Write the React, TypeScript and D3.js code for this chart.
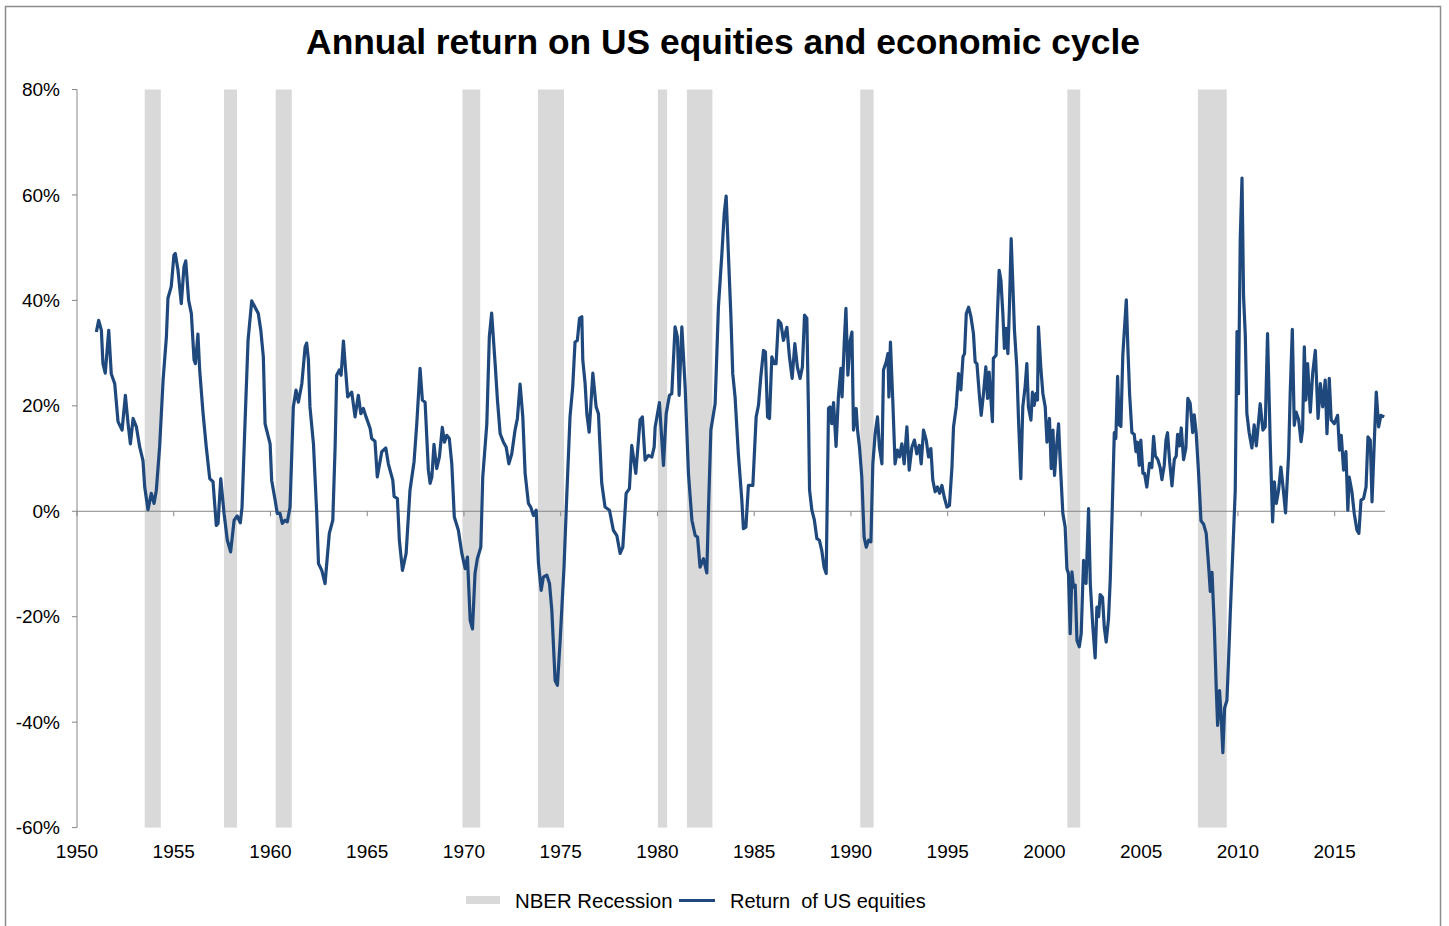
import React, { useEffect } from 'react';
import * as d3 from 'd3';

// Annual return of US equities (%), [fractional year, value]
const equityReturns: [number, number][] = [
  [1951.0, 34.0], [1951.12, 36.2], [1951.26, 34.3], [1951.34, 28.0], [1951.46, 26.2], [1951.64, 34.3], [1951.77, 26.1], [1951.95, 24.2],
  [1952.12, 17.0], [1952.33, 15.4], [1952.5, 22.0], [1952.64, 16.6], [1952.76, 12.8], [1952.9, 17.6], [1953.07, 16.0], [1953.24, 12.2],
  [1953.41, 9.6], [1953.5, 4.6], [1953.67, 0.3], [1953.84, 3.4], [1953.98, 1.5], [1954.1, 4.0], [1954.27, 12.2], [1954.45, 24.9],
  [1954.62, 33.1], [1954.7, 40.4], [1954.87, 42.6], [1955.01, 48.6], [1955.08, 48.9], [1955.22, 45.7], [1955.39, 39.4], [1955.53, 46.4],
  [1955.62, 47.5], [1955.77, 40.0], [1955.91, 37.5], [1956.05, 28.7], [1956.12, 28.0], [1956.25, 33.6], [1956.34, 26.8], [1956.51, 18.8],
  [1956.68, 12.2], [1956.86, 6.2], [1957.03, 5.6], [1957.2, -2.7], [1957.29, -2.3], [1957.43, 6.2], [1957.6, -0.4], [1957.77, -5.5],
  [1957.94, -7.7], [1958.12, -1.7], [1958.28, -0.9], [1958.44, -2.2], [1958.53, 0.8], [1958.67, 15.4], [1958.84, 32.4], [1959.03, 39.9],
  [1959.37, 37.5], [1959.5, 34.3], [1959.63, 29.3], [1959.72, 16.6], [1959.98, 12.8], [1960.06, 5.9], [1960.24, 2.1], [1960.35, -0.4],
  [1960.49, -0.4], [1960.61, -2.3], [1960.75, -1.7], [1960.87, -2.0], [1961.01, 0.8], [1961.18, 19.8], [1961.32, 23.0], [1961.44, 20.7],
  [1961.62, 24.2], [1961.79, 31.2], [1961.87, 31.9], [1961.96, 28.7], [1962.04, 19.8], [1962.22, 12.8], [1962.39, -0.4], [1962.48, -9.9],
  [1962.65, -11.2], [1962.82, -13.7], [1963.04, -4.2], [1963.22, -1.7], [1963.34, 12.2], [1963.42, 25.8], [1963.56, 26.8], [1963.65, 25.8],
  [1963.77, 32.3], [1963.87, 27.4], [1963.99, 21.7], [1964.2, 22.6], [1964.37, 17.9], [1964.54, 22.0], [1964.67, 18.5], [1964.8, 19.5],
  [1964.94, 17.9], [1965.15, 15.7], [1965.23, 13.8], [1965.4, 13.3], [1965.52, 6.5], [1965.75, 11.3], [1965.96, 12.0], [1966.09, 9.0],
  [1966.32, 5.9], [1966.39, 2.8], [1966.56, 2.4], [1966.66, -5.5], [1966.82, -11.2], [1967.01, -8.0], [1967.21, 4.0], [1967.42, 9.4],
  [1967.56, 16.6], [1967.73, 27.1], [1967.85, 21.1], [1967.99, 20.7], [1968.16, 7.8], [1968.25, 5.3], [1968.34, 6.5], [1968.45, 12.7],
  [1968.59, 8.1], [1968.73, 10.3], [1968.88, 15.9], [1968.99, 13.1], [1969.11, 14.4], [1969.24, 13.8], [1969.37, 9.0], [1969.5, -1.1],
  [1969.71, -3.6], [1969.89, -8.0], [1970.06, -10.9], [1970.18, -8.7], [1970.32, -20.7], [1970.44, -22.3], [1970.57, -11.8], [1970.69, -9.0],
  [1970.87, -6.8], [1970.97, 6.5], [1971.18, 16.6], [1971.31, 33.1], [1971.43, 37.6], [1971.61, 28.0], [1971.73, 21.1], [1971.87, 14.7],
  [1972.04, 13.1], [1972.18, 12.2], [1972.32, 9.0], [1972.47, 10.9], [1972.64, 15.4], [1972.76, 17.6], [1972.9, 24.1], [1973.04, 17.9],
  [1973.16, 7.2], [1973.33, 1.5], [1973.45, 0.8], [1973.59, -0.8], [1973.73, 0.2], [1973.85, -9.9], [1973.99, -15.0], [1974.1, -12.5],
  [1974.28, -12.1], [1974.42, -13.7], [1974.54, -18.8], [1974.71, -32.1], [1974.83, -33.0], [1974.97, -24.5], [1975.17, -10.6], [1975.31, 2.7],
  [1975.48, 17.9], [1975.62, 23.6], [1975.74, 32.1], [1975.86, 32.4], [1975.97, 36.6], [1976.09, 36.9], [1976.14, 28.7], [1976.26, 24.2],
  [1976.35, 18.5], [1976.47, 15.0], [1976.66, 26.2], [1976.83, 19.8], [1976.95, 18.5], [1977.12, 5.3], [1977.29, 0.8], [1977.52, 0.2],
  [1977.72, -3.6], [1977.9, -4.6], [1978.07, -8.0], [1978.21, -6.8], [1978.38, 3.4], [1978.55, 4.3], [1978.67, 12.5], [1978.88, 7.2],
  [1979.1, 17.3], [1979.22, 17.9], [1979.36, 9.7], [1979.53, 10.6], [1979.71, 10.3], [1979.83, 12.2], [1979.88, 16.0], [1980.1, 20.6],
  [1980.31, 8.7], [1980.45, 18.5], [1980.62, 22.0], [1980.74, 22.3], [1980.91, 35.0], [1981.03, 33.1], [1981.12, 22.0], [1981.26, 35.0],
  [1981.43, 23.6], [1981.6, 7.2], [1981.78, -1.7], [1981.95, -4.6], [1982.07, -4.9], [1982.2, -10.6], [1982.38, -9.0], [1982.55, -11.7],
  [1982.63, -0.4], [1982.76, 15.4], [1982.98, 20.4], [1983.15, 38.8], [1983.33, 48.9], [1983.45, 56.5], [1983.55, 59.8], [1983.67, 48.3],
  [1983.79, 37.5], [1983.89, 26.1], [1984.01, 21.7], [1984.18, 10.9], [1984.36, 2.1], [1984.44, -3.3], [1984.57, -3.0], [1984.7, 4.9],
  [1984.93, 4.9], [1985.1, 17.9], [1985.22, 20.1], [1985.34, 25.5], [1985.48, 30.5], [1985.58, 30.2], [1985.69, 17.9], [1985.79, 17.6],
  [1985.91, 29.3], [1986.03, 28.0], [1986.13, 28.0], [1986.25, 36.2], [1986.38, 35.6], [1986.51, 32.4], [1986.69, 34.9], [1986.82, 29.3],
  [1986.96, 25.2], [1987.1, 31.8], [1987.23, 27.4], [1987.37, 25.2], [1987.49, 27.4], [1987.6, 37.2], [1987.72, 36.6], [1987.8, 19.8],
  [1987.86, 4.0], [1987.98, 0.2], [1988.11, -1.7], [1988.24, -5.2], [1988.37, -5.5], [1988.49, -7.4], [1988.61, -10.6], [1988.72, -11.8],
  [1988.84, 19.5], [1988.92, 19.8], [1989.01, 16.6], [1989.1, 20.6], [1989.23, 12.3], [1989.35, 21.7], [1989.48, 27.1], [1989.54, 21.7],
  [1989.65, 31.8], [1989.74, 38.5], [1989.84, 25.8], [1989.96, 32.4], [1990.05, 34.0], [1990.13, 15.4], [1990.27, 19.5], [1990.34, 15.4],
  [1990.44, 12.2], [1990.56, 6.5], [1990.68, -4.9], [1990.79, -6.8], [1990.91, -5.5], [1991.03, -5.8], [1991.13, 9.0], [1991.25, 14.7],
  [1991.37, 17.9], [1991.47, 12.2], [1991.6, 9.0], [1991.68, 26.8], [1991.82, 28.3], [1991.91, 29.9], [1991.96, 21.7], [1992.04, 32.1],
  [1992.16, 21.1], [1992.28, 9.0], [1992.4, 11.6], [1992.51, 10.3], [1992.63, 12.8], [1992.75, 9.0], [1992.89, 16.0], [1993.01, 7.8],
  [1993.15, 12.2], [1993.28, 13.5], [1993.4, 10.9], [1993.53, 12.5], [1993.63, 9.0], [1993.75, 15.4], [1993.89, 13.5], [1994.01, 10.3],
  [1994.13, 11.9], [1994.23, 5.9], [1994.35, 3.7], [1994.47, 4.6], [1994.58, 3.4], [1994.7, 4.9], [1994.82, 2.7], [1994.96, 0.8],
  [1995.09, 1.1], [1995.22, 8.4], [1995.3, 16.0], [1995.44, 19.8], [1995.56, 26.1], [1995.68, 23.0], [1995.79, 29.3], [1995.87, 29.9],
  [1995.96, 37.5], [1996.08, 38.7], [1996.2, 36.9], [1996.33, 33.7], [1996.42, 28.3], [1996.51, 28.0], [1996.63, 22.3], [1996.73, 18.2],
  [1996.85, 22.3], [1996.97, 27.4], [1997.06, 21.4], [1997.14, 26.4], [1997.23, 21.4], [1997.31, 17.0], [1997.36, 29.0], [1997.5, 29.6],
  [1997.57, 37.5], [1997.66, 45.7], [1997.75, 43.8], [1997.85, 37.5], [1997.93, 30.9], [1998.02, 34.7], [1998.11, 29.9], [1998.19, 38.8],
  [1998.28, 51.7], [1998.37, 42.6], [1998.45, 34.3], [1998.57, 27.4], [1998.66, 17.3], [1998.78, 6.2], [1998.88, 19.8], [1999.0, 23.6],
  [1999.09, 28.0], [1999.17, 19.8], [1999.3, 17.3], [1999.38, 22.6], [1999.47, 20.1], [1999.56, 22.3], [1999.64, 21.1], [1999.69, 35.0],
  [1999.82, 26.8], [1999.92, 22.3], [2000.04, 19.8], [2000.13, 13.1], [2000.26, 17.6], [2000.35, 8.1], [2000.44, 15.4], [2000.52, 6.8],
  [2000.61, 11.6], [2000.73, 16.6], [2000.81, 9.7], [2000.95, -0.4], [2001.07, -3.0], [2001.16, -10.9], [2001.24, -11.8], [2001.33, -23.2],
  [2001.42, -11.5], [2001.5, -14.4], [2001.59, -14.0], [2001.68, -24.5], [2001.8, -25.7], [2001.9, -23.2], [2002.02, -9.3], [2002.15, -13.7],
  [2002.28, 0.5], [2002.37, -13.8], [2002.5, -21.9], [2002.62, -27.8], [2002.71, -18.2], [2002.8, -20.0], [2002.88, -15.8], [2003.0, -16.3],
  [2003.09, -21.9], [2003.19, -24.8], [2003.31, -20.4], [2003.4, -13.0], [2003.49, -1.3], [2003.61, 14.9], [2003.69, 13.8], [2003.78, 25.6],
  [2003.86, 16.4], [2003.95, 16.1], [2004.05, 29.7], [2004.23, 40.1], [2004.31, 31.1], [2004.4, 22.3], [2004.52, 14.9], [2004.64, 14.6],
  [2004.73, 11.3], [2004.81, 13.1], [2004.9, 8.7], [2004.98, 13.5], [2005.09, 7.2], [2005.17, 7.2], [2005.29, 4.6], [2005.43, 9.1],
  [2005.55, 8.3], [2005.64, 14.2], [2005.73, 10.5], [2005.86, 9.8], [2005.98, 8.3], [2006.07, 6.0], [2006.19, 8.7], [2006.28, 13.5],
  [2006.36, 14.9], [2006.47, 9.4], [2006.59, 4.8], [2006.71, 9.8], [2006.81, 10.5], [2006.88, 14.6], [2006.98, 12.4], [2007.07, 15.8],
  [2007.19, 9.8], [2007.31, 12.0], [2007.41, 21.4], [2007.53, 20.5], [2007.66, 14.9], [2007.74, 18.3], [2007.84, 14.9], [2007.96, 7.6],
  [2008.09, -1.8], [2008.22, -2.4], [2008.36, -4.2], [2008.48, -10.1], [2008.57, -15.2], [2008.66, -11.6], [2008.78, -21.9], [2008.88, -33.7],
  [2008.95, -40.6], [2009.05, -34.0], [2009.14, -39.5], [2009.22, -45.8], [2009.31, -37.3], [2009.43, -35.9], [2009.52, -27.8], [2009.6, -19.7],
  [2009.74, -7.1], [2009.86, 3.9], [2009.95, 34.1], [2010.03, 22.3], [2010.12, 51.8], [2010.21, 63.2], [2010.29, 40.7], [2010.38, 33.4],
  [2010.46, 18.6], [2010.58, 14.9], [2010.72, 12.0], [2010.84, 16.4], [2010.95, 12.4], [2011.07, 17.2], [2011.15, 20.4], [2011.29, 15.4],
  [2011.41, 16.0], [2011.53, 33.7], [2011.67, 12.8], [2011.79, -2.0], [2011.88, 5.6], [2011.98, 1.5], [2012.1, 4.0], [2012.22, 8.4],
  [2012.33, 4.6], [2012.46, -0.3], [2012.62, 10.9], [2012.7, 22.3], [2012.81, 34.5], [2012.91, 16.3], [2013.01, 18.8], [2013.14, 17.3],
  [2013.26, 13.2], [2013.34, 15.4], [2013.43, 31.2], [2013.51, 21.1], [2013.6, 28.0], [2013.74, 18.8], [2013.86, 26.1], [2014.0, 30.5],
  [2014.14, 17.6], [2014.26, 24.2], [2014.38, 19.8], [2014.51, 24.9], [2014.6, 14.7], [2014.72, 25.2], [2014.82, 17.3], [2014.98, 16.6],
  [2015.15, 18.2], [2015.25, 11.6], [2015.34, 14.4], [2015.46, 7.8], [2015.58, 11.3], [2015.68, 0.2], [2015.75, 6.5], [2015.89, 3.7],
  [2016.01, -0.4], [2016.15, -3.6], [2016.25, -4.2], [2016.36, 2.1], [2016.49, 2.4], [2016.62, 4.6], [2016.72, 14.1], [2016.84, 13.5],
  [2016.93, 1.8], [2017.05, 13.5], [2017.15, 22.6], [2017.27, 16.0], [2017.39, 18.2], [2017.56, 17.9],
];

// NBER recessions, [start, end] as fractional years
const recessions: [number, number][] = [
  [1953.5, 1954.33], [1957.6, 1958.27], [1960.27, 1961.1], [1969.92, 1970.84], [1973.82, 1975.17],
  [1980.02, 1980.5], [1981.52, 1982.84], [1990.48, 1991.17], [2001.18, 2001.85], [2007.93, 2009.42],
];

const yTicks = [-60, -40, -20, 0, 20, 40, 60, 80];
const xTicks = [1950, 1955, 1960, 1965, 1970, 1975, 1980, 1985, 1990, 1995, 2000, 2005, 2010, 2015];

const title = 'Annual return on US equities and economic cycle';
const legendRecession = 'NBER Recession';
const legendReturn = 'Return  of US equities';

const W = 1449;
const H = 926;
const FONT = '"Liberation Sans", Arial, sans-serif';
const LINE_COLOR = '#1f497d';
const BAND_COLOR = '#d9d9d9';
const AXIS_COLOR = '#868686';

export default function App() {
  useEffect(() => {
    document.body.style.margin = '0';
  }, []);

  const x = d3.scaleLinear().domain([1950, 2017.6]).range([77, 1385]);
  const y = d3.scaleLinear().domain([-60, 80]).range([827.6, 89.5]);

  const line = d3
    .line<[number, number]>()
    .x(d => x(d[0]))
    .y(d => y(d[1]));

  return (
    <svg width={W} height={H} style={{ position: 'absolute', left: 0, top: 0, display: 'block' }} fontFamily={FONT}>
      <rect x={0} y={0} width={W} height={H} fill="#fff" />
      <rect x={5.5} y={6.5} width={1435} height={940} fill="none" stroke="#8c8c8c" strokeWidth={1.5} />

      <text x={723} y={54} textAnchor="middle" fontSize={35.4} fontWeight="bold" fill="#000">
        {title}
      </text>

      {recessions.map(([s, e], i) => (
        <rect key={i} x={x(s)} y={y(80)} width={x(e) - x(s)} height={y(-60) - y(80)} fill={BAND_COLOR} />
      ))}

      {/* y axis */}
      <line x1={77} x2={77} y1={y(80)} y2={y(-60)} stroke={AXIS_COLOR} strokeWidth={1} />
      {yTicks.map(t => (
        <g key={t}>
          <line x1={72} x2={77} y1={y(t)} y2={y(t)} stroke={AXIS_COLOR} strokeWidth={1} />
          <text x={60} y={y(t)} dy="0.35em" textAnchor="end" fontSize={19} fill="#000">
            {t}%
          </text>
        </g>
      ))}

      {/* x axis on zero line */}
      <line x1={x(1950)} x2={x(2017.6)} y1={y(0)} y2={y(0)} stroke={AXIS_COLOR} strokeWidth={1} />
      {xTicks.map(t => (
        <g key={t}>
          <line x1={x(t)} x2={x(t)} y1={y(0)} y2={y(0) + 5} stroke={AXIS_COLOR} strokeWidth={1} />
          <text x={x(t)} y={851} dy="0.35em" textAnchor="middle" fontSize={19} fill="#000">
            {t}
          </text>
        </g>
      ))}

      <path d={line(equityReturns) || ''} fill="none" stroke={LINE_COLOR} strokeWidth={3.2} strokeLinejoin="round" />

      {/* legend */}
      <rect x={466} y={896} width={34} height={8} fill={BAND_COLOR} />
      <text x={515} y={901} dy="0.35em" fontSize={20.4} fill="#000">
        {legendRecession}
      </text>
      <line x1={679} x2={715} y1={900.5} y2={900.5} stroke={LINE_COLOR} strokeWidth={3} />
      <text x={730} y={901} dy="0.35em" fontSize={20} fill="#000" style={{ whiteSpace: 'pre' }}>
        {legendReturn}
      </text>
    </svg>
  );
}
